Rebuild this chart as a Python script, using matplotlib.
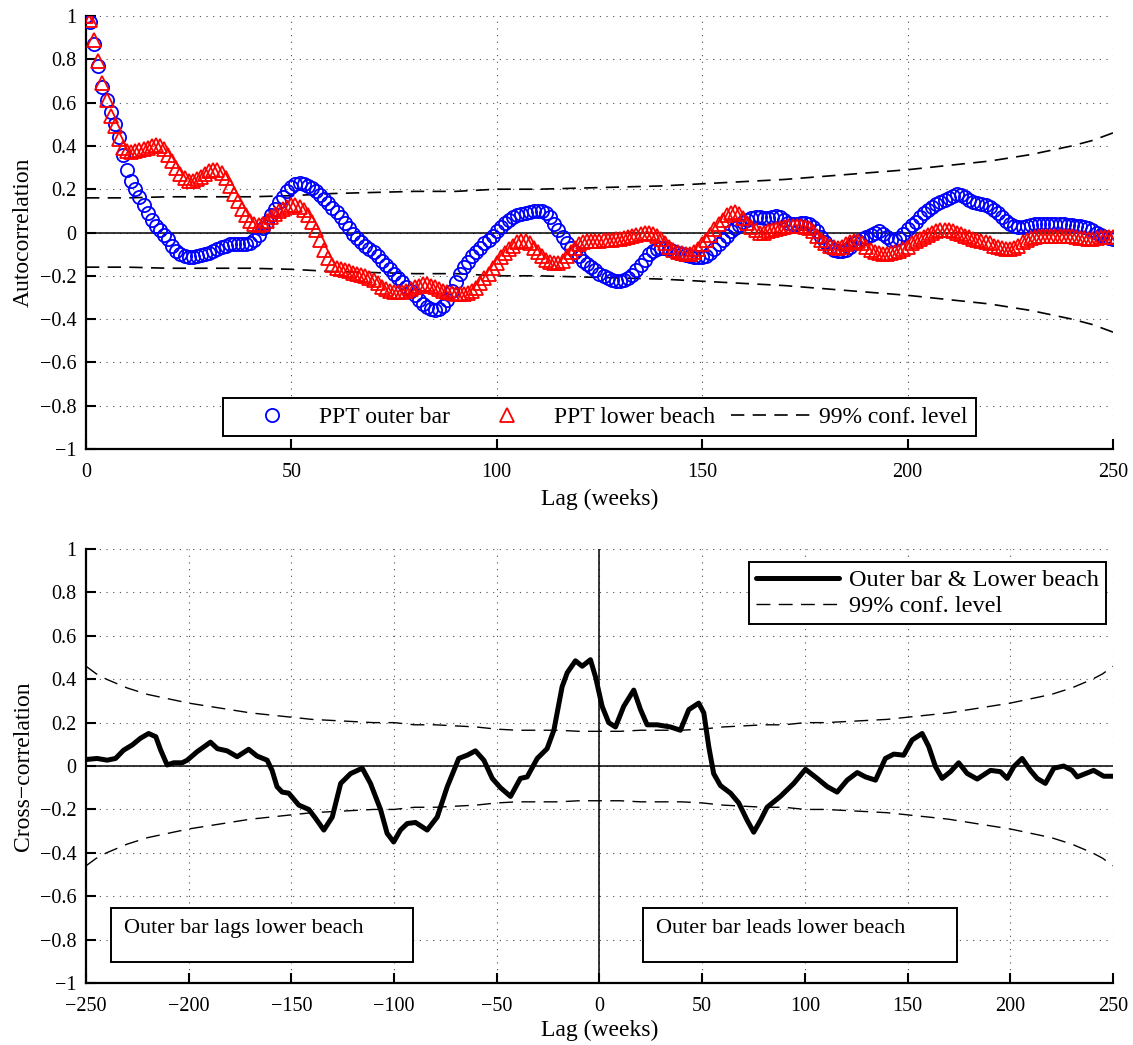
import numpy as np
import matplotlib
matplotlib.use('Agg')
import matplotlib.pyplot as plt
from matplotlib.ticker import FuncFormatter
from matplotlib.patches import Rectangle

plt.rcParams['font.family'] = ['Liberation Serif', 'DejaVu Serif']
plt.rcParams['mathtext.fontset'] = 'stix'

# autocorrelation, one value per week of lag (0..250)
lags = np.arange(0, 251)
outer_bar = [
    1.00, 0.97, 0.87, 0.77, 0.67, 0.61, 0.555, 0.50, 0.44, 0.36,          # 0-9
    0.29, 0.24, 0.20, 0.165, 0.125, 0.09, 0.06, 0.03, 0.01, -0.01,        # 10-19
    -0.03, -0.06, -0.085, -0.10, -0.11, -0.115, -0.115, -0.11, -0.105, -0.10,
    -0.095, -0.085, -0.075, -0.065, -0.06, -0.055, -0.055, -0.055, -0.055, -0.055,
    -0.05, -0.035, -0.01, 0.02, 0.05, 0.08, 0.11, 0.14, 0.165, 0.19,      # 40-49
    0.21, 0.225, 0.23, 0.225, 0.215, 0.205, 0.19, 0.175, 0.155, 0.135,
    0.115, 0.095, 0.07, 0.045, 0.02, -0.005, -0.025, -0.045, -0.06, -0.075,
    -0.09, -0.11, -0.13, -0.15, -0.17, -0.19, -0.21, -0.23, -0.25, -0.27,
    -0.29, -0.31, -0.33, -0.345, -0.355, -0.36, -0.355, -0.34, -0.31, -0.27,
    -0.23, -0.19, -0.16, -0.135, -0.11, -0.09, -0.07, -0.05, -0.035, -0.015,
    0.005, 0.025, 0.045, 0.06, 0.07, 0.08, 0.085, 0.09, 0.095, 0.10,      # 100-109
    0.10, 0.10, 0.09, 0.07, 0.04, 0.01, -0.02, -0.05, -0.07, -0.09,
    -0.11, -0.13, -0.145, -0.16, -0.175, -0.19, -0.20, -0.21, -0.22, -0.225,
    -0.225, -0.22, -0.21, -0.195, -0.175, -0.15, -0.125, -0.10, -0.085, -0.075,
    -0.07, -0.07, -0.075, -0.085, -0.095, -0.10, -0.105, -0.11, -0.115, -0.115,
    -0.115, -0.11, -0.095, -0.075, -0.055, -0.035, -0.015, 0.005, 0.02, 0.035,
    0.05, 0.06, 0.065, 0.07, 0.07, 0.065, 0.065, 0.07, 0.075, 0.07,      # 160-169
    0.06, 0.045, 0.04, 0.04, 0.045, 0.045, 0.04, 0.025, 0.005, -0.02,
    -0.045, -0.065, -0.08, -0.085, -0.085, -0.08, -0.065, -0.05, -0.04, -0.03,
    -0.02, -0.01, 0.0, 0.005, -0.005, -0.02, -0.035, -0.035, -0.025, -0.005,
    0.015, 0.035, 0.05, 0.07, 0.09, 0.105, 0.12, 0.13, 0.14, 0.15,       # 200-209
    0.16, 0.17, 0.18, 0.175, 0.165, 0.15, 0.14, 0.135, 0.13, 0.125,
    0.12, 0.105, 0.09, 0.07, 0.055, 0.04, 0.03, 0.025, 0.025, 0.03,
    0.035, 0.04, 0.04, 0.04, 0.04, 0.04, 0.04, 0.04, 0.04, 0.035,
    0.035, 0.03, 0.03, 0.025, 0.02, 0.01, 0.0, -0.01, -0.02, -0.025,
    -0.03,
]
lower_beach = [
    1.00, 0.98, 0.89, 0.79, 0.69, 0.61, 0.54, 0.49, 0.43, 0.39,          # 0-9
    0.375, 0.37, 0.375, 0.38, 0.385, 0.39, 0.40, 0.405, 0.40, 0.385,
    0.36, 0.33, 0.30, 0.27, 0.25, 0.24, 0.24, 0.245, 0.255, 0.27,
    0.285, 0.29, 0.29, 0.275, 0.25, 0.215, 0.18, 0.145, 0.11, 0.08,
    0.055, 0.04, 0.035, 0.04, 0.055, 0.07, 0.085, 0.10, 0.11, 0.12,       # 40-49
    0.125, 0.125, 0.12, 0.105, 0.08, 0.05, 0.01, -0.035, -0.08, -0.12,
    -0.15, -0.165, -0.17, -0.175, -0.18, -0.185, -0.19, -0.195, -0.20, -0.21,
    -0.22, -0.235, -0.25, -0.26, -0.27, -0.275, -0.275, -0.275, -0.27, -0.26,
    -0.25, -0.245, -0.24, -0.24, -0.245, -0.25, -0.26, -0.27, -0.275, -0.28,
    -0.285, -0.285, -0.285, -0.28, -0.27, -0.255, -0.235, -0.21, -0.19, -0.165,
    -0.14, -0.115, -0.095, -0.075, -0.06, -0.045, -0.04, -0.04, -0.05, -0.07,   # 100-109
    -0.09, -0.11, -0.125, -0.135, -0.14, -0.14, -0.13, -0.11, -0.09, -0.07,
    -0.055, -0.045, -0.04, -0.04, -0.04, -0.04, -0.035, -0.035, -0.035, -0.03,
    -0.03, -0.025, -0.02, -0.015, -0.01, -0.005, 0.0, 0.0, -0.005, -0.015,
    -0.03, -0.05, -0.065, -0.08, -0.09, -0.095, -0.10, -0.10, -0.09, -0.075,
    -0.055, -0.035, -0.01, 0.015, 0.04, 0.06, 0.08, 0.09, 0.095, 0.085,
    0.065, 0.045, 0.025, 0.01, 0.0, 0.0, 0.005, 0.01, 0.015, 0.02,       # 160-169
    0.025, 0.03, 0.03, 0.03, 0.03, 0.025, 0.02, 0.005, -0.015, -0.035,
    -0.05, -0.06, -0.065, -0.07, -0.065, -0.055, -0.045, -0.04, -0.04, -0.05,
    -0.065, -0.08, -0.09, -0.095, -0.10, -0.10, -0.095, -0.09, -0.085, -0.075,
    -0.065, -0.05, -0.04, -0.03, -0.02, -0.01, 0.0, 0.005, 0.01, 0.01,   # 200-209
    0.01, 0.005, 0.0, -0.005, -0.015, -0.02, -0.03, -0.035, -0.04, -0.045,
    -0.05, -0.06, -0.065, -0.07, -0.075, -0.075, -0.07, -0.06, -0.045, -0.035,
    -0.025, -0.02, -0.015, -0.015, -0.015, -0.015, -0.015, -0.015, -0.015, -0.015,
    -0.015, -0.02, -0.025, -0.025, -0.03, -0.03, -0.025, -0.02, -0.02, -0.02,
    -0.02,
]

# 99% confidence level (upper half; lower is the mirror)
conf_lag = [0, 10, 20, 30, 40, 50, 60, 70, 80, 90, 100, 110, 120, 130, 140,
            150, 160, 170, 180, 190, 200, 210, 220, 230, 240, 245, 250]
conf_val = [0.16, 0.16, 0.165, 0.165, 0.165, 0.17, 0.18, 0.185, 0.19, 0.19,
            0.20, 0.20, 0.205, 0.21, 0.215, 0.225, 0.235, 0.245, 0.26, 0.275,
            0.29, 0.31, 0.33, 0.36, 0.40, 0.425, 0.46]

# cross-correlation outer bar vs lower beach
xc_lag = [-250, -244.6, -239.7, -235.6, -231.7, -227.5, -223.5, -219.5, -216, -213.7,
          -210.5, -207.3, -203.2, -200.7, -195.9, -189.4, -186, -181.3, -176.4, -170.8,
          -166.7, -161.8, -159.4, -157, -154.5, -151.3, -146.4, -141.5, -138.3, -134.2,
          -130.1, -126, -121.2, -115.5, -111.5, -106.6, -103.4, -100.2, -96.9, -93.6,
          -89.6, -83.9, -79, -74.1, -68.5, -64.4, -60.4, -56.3, -52.2, -48.2,
          -43.3, -38.5, -35.2, -30.3, -25.5, -22.2, -18.2, -15.7, -11.7, -8.4,
          -4.4, -1.9, 1.3, 4.5, 7.8, 11.8, 16.7, 20, 23.2, 28.1,
          34.6, 39.4, 43.5, 48.3, 50.8, 53.2, 55.6, 58.9, 63.8, 67.8,
          71.9, 75.1, 78.4, 81.6, 88.1, 94.6, 100.3, 106, 110.9, 115.7,
          120.6, 125.5, 129.5, 134.4, 139.2, 143.3, 148.1, 152.2, 157.1, 160.3,
          163.6, 166.8, 170.9, 174.9, 179, 183.9, 190.4, 195.2, 198.5, 201.7,
          205.8, 209.8, 213.1, 217.1, 221.2, 226, 230.1, 232.6, 236.6, 240.6,
          245.5, 250]
xc_val = [0.03, 0.035, 0.027, 0.035, 0.073, 0.097, 0.128, 0.15, 0.135, 0.075,
          0.005, 0.015, 0.015, 0.027, 0.066, 0.11, 0.08, 0.07, 0.043, 0.077,
          0.046, 0.027, -0.02, -0.095, -0.12, -0.125, -0.18, -0.20, -0.24, -0.295,
          -0.235, -0.08, -0.035, -0.01, -0.08, -0.20, -0.31, -0.35, -0.295, -0.265,
          -0.26, -0.295, -0.235, -0.095, 0.035, 0.05, 0.07, 0.027, -0.057, -0.10,
          -0.14, -0.057, -0.05, 0.035, 0.08, 0.165, 0.365, 0.43, 0.485, 0.46,
          0.49, 0.41, 0.275, 0.20, 0.18, 0.275, 0.35, 0.26, 0.19, 0.19,
          0.18, 0.165, 0.26, 0.29, 0.245, 0.09, -0.035, -0.09, -0.125, -0.17,
          -0.25, -0.305, -0.25, -0.19, -0.14, -0.08, -0.015, -0.057, -0.095, -0.12,
          -0.065, -0.03, -0.05, -0.065, 0.035, 0.055, 0.05, 0.12, 0.15, 0.09,
          -0.003, -0.057, -0.026, 0.015, -0.034, -0.06, -0.02, -0.026, -0.057, -0.003,
          0.035, -0.02, -0.057, -0.08, -0.01, 0.0, -0.02, -0.05, -0.035, -0.02,
          -0.047, -0.047]


def fmt(v, pos):
    if abs(v) < 1e-9:
        return '0'
    return ('%g' % round(v, 1)).replace('-', '\u2212')


def style_axes(ax):
    ax.spines['top'].set_visible(False)
    ax.spines['right'].set_visible(False)
    ax.spines['left'].set_linewidth(1.6)
    ax.spines['bottom'].set_linewidth(1.6)
    ax.tick_params(direction='in', length=7, width=1.5, labelsize=14.5)
    ax.tick_params(axis='x', pad=10)
    ax.tick_params(axis='y', pad=7)
    ax.grid(True, linestyle=(0, (1, 5)), color='k', linewidth=0.8, alpha=0.7)
    ax.set_ylim(-1, 1)
    ax.set_yticks(np.arange(-1, 1.01, 0.2))
    ax.yaxis.set_major_formatter(FuncFormatter(fmt))
    ax.xaxis.set_major_formatter(FuncFormatter(fmt))


fig = plt.figure(figsize=(11.33, 10.45), dpi=100)

# ---- top: autocorrelation
ax1 = fig.add_axes([0.0759, 0.5703, 0.9064, 0.4144])
style_axes(ax1)
ax1.axhline(0, color='k', linewidth=1.1, zorder=2)
ax1.plot(lags, outer_bar, linestyle='none', marker='o', markersize=9.5,
         markerfacecolor='none', markeredgecolor='b', markeredgewidth=1.3,
         label='PPT outer bar', zorder=3)
ax1.plot(lags, lower_beach, linestyle='none', marker='^', markersize=10.5,
         markerfacecolor='none', markeredgecolor='r', markeredgewidth=1.3,
         label='PPT lower beach', zorder=3)
ax1.plot(conf_lag, conf_val, color='k', linewidth=1.2, dashes=(8, 5),
         label='99% conf. level', zorder=2)
ax1.plot(conf_lag, [-v for v in conf_val], color='k', linewidth=1.2, dashes=(8, 5), zorder=2)
ax1.set_xlim(0, 250)
ax1.set_xticks(np.arange(0, 251, 50))
ax1.set_xlabel('Lag (weeks)', fontsize=17, labelpad=5)
ax1.set_ylabel('Autocorrelation', fontsize=17, labelpad=4)
leg1 = ax1.legend(loc='lower center', bbox_to_anchor=(0.5, 0.03), ncol=3,
                  fontsize=17, frameon=True, fancybox=False, edgecolor='k',
                  borderaxespad=0, handlelength=3.4, handletextpad=0.3,
                  columnspacing=0.7, borderpad=0.35)
leg1.get_frame().set_linewidth(1.4)
leg1.get_frame().set_alpha(1)

# ---- bottom: cross-correlation
ax2 = fig.add_axes([0.0759, 0.0593, 0.9064, 0.4153])
style_axes(ax2)
ax2.axhline(0, color='k', linewidth=1.1, zorder=2)
ax2.axvline(0, color='k', linewidth=1.1, zorder=2)
ax2.plot(xc_lag, xc_val, color='k', linewidth=3.6, solid_joinstyle='round',
         solid_capstyle='round', label='Outer bar & Lower beach', zorder=3)
both_lag = [-l for l in conf_lag[::-1]] + conf_lag[1:]
both_val = conf_val[::-1] + conf_val[1:]
ax2.plot(both_lag, both_val, color='k', linewidth=1.0, dashes=(10, 6),
         label='99% conf. level', zorder=2)
ax2.plot(both_lag, [-v for v in both_val], color='k', linewidth=1.0, dashes=(10, 6), zorder=2)
ax2.set_xlim(-250, 250)
ax2.set_xticks(np.arange(-250, 251, 50))
ax2.set_xlabel('Lag (weeks)', fontsize=17, labelpad=3)
ax2.set_ylabel('Cross\u2212correlation', fontsize=17, labelpad=4)
leg2 = ax2.legend(loc='upper right', bbox_to_anchor=(0.993, 0.97), fontsize=17.5,
                  frameon=True, fancybox=False, edgecolor='k', borderaxespad=0,
                  handlelength=3.4, handletextpad=0.4, borderpad=0.3,
                  labelspacing=0.15)
leg2.get_frame().set_linewidth(1.4)
leg2.get_frame().set_alpha(1)

# annotation boxes
for x0, x1, txt in [(-237.6, -90.6, 'Outer bar lags lower beach'),
                    (21, 174, 'Outer bar leads lower beach')]:
    ax2.add_patch(Rectangle((x0, -0.902), x1 - x0, 0.249, facecolor='white',
                            edgecolor='k', linewidth=1.4, zorder=4))
    ax2.text(x0 + 6.3, -0.747, txt, fontsize=16, va='center', ha='left', zorder=5)

fig.savefig('out.png', dpi=100)
